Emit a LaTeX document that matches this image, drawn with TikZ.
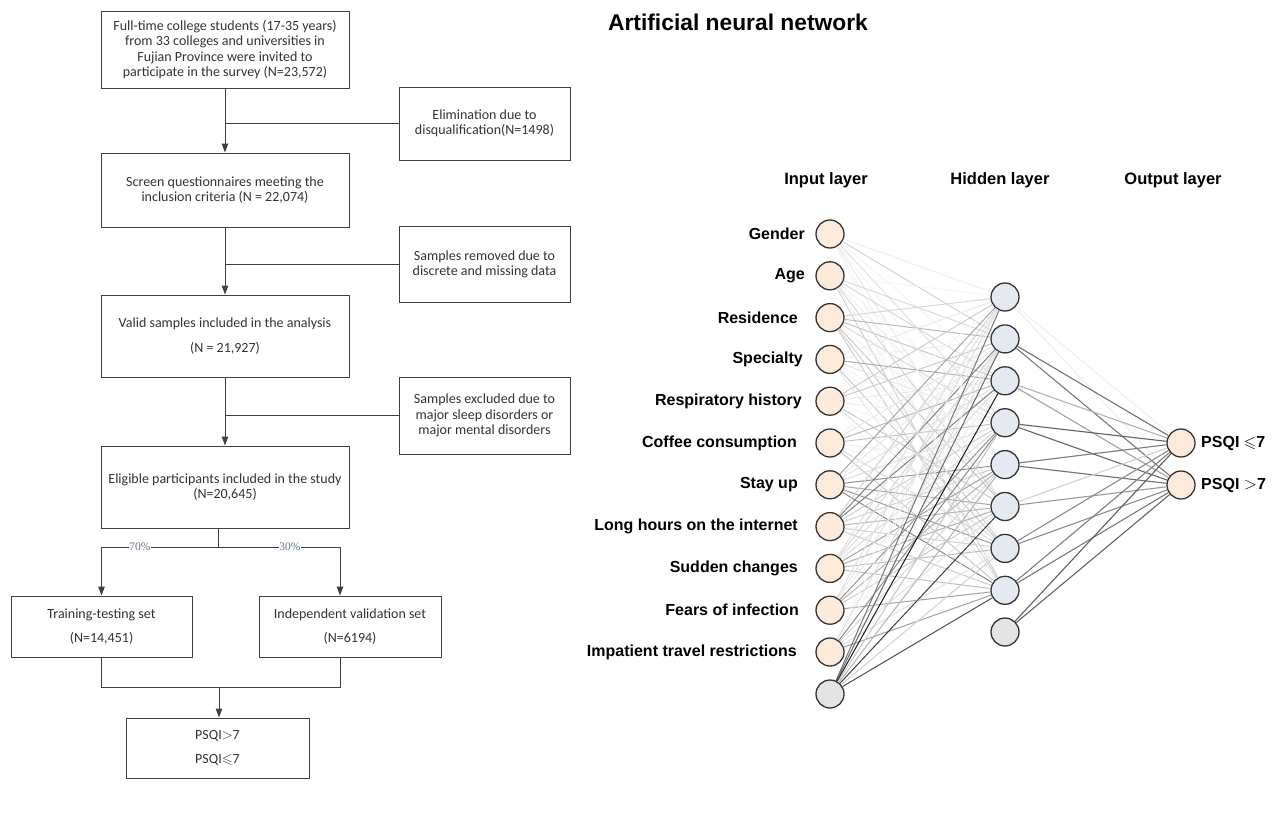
\documentclass[tikz,border=0pt]{standalone}
\usepackage{amssymb}
\usepackage{fontspec}
\setmainfont{Liberation Sans}
\newfontfamily\fcfont{Carlito}
\newfontfamily\pctfont{Liberation Serif}
\usetikzlibrary{arrows.meta}
\definecolor{fcline}{HTML}{404040}
\definecolor{fctext}{HTML}{333333}
\definecolor{pctcol}{HTML}{5F7290}
\definecolor{infill}{HTML}{FCEBDA}
\definecolor{hidfill}{HTML}{E5EAF2}
\definecolor{biasfill}{HTML}{E4E4E4}
\definecolor{nodeline}{HTML}{333333}
\tikzset{
  fbox/.style={draw=fcline, line width=1pt, rectangle, inner sep=0pt, align=center,
    font=\fcfont\fontsize{14}{15.3}\selectfont, text=fctext},
  fline/.style={draw=fcline, line width=1pt},
  farrow/.style={fline, -{Triangle[length=9pt,width=6.5pt]}},
  pct/.style={font=\pctfont\fontsize{11.5}{12}\selectfont, text=pctcol, fill=white, inner sep=0.8pt},
  neuron/.style={circle, draw=nodeline, line width=1.3pt, minimum size=28pt, inner sep=0pt},
  innode/.style={neuron, fill=infill},
  hidnode/.style={neuron, fill=hidfill},
  biasnode/.style={neuron, fill=biasfill},
  lab/.style={anchor=east, font=\bfseries\fontsize{16}{19}\selectfont, inner sep=0pt},
  olab/.style={anchor=west, font=\bfseries\fontsize{16}{19}\selectfont, inner sep=0pt},
  head/.style={font=\bfseries\fontsize{16.5}{19}\selectfont},
}
\begin{document}
\begin{tikzpicture}[x=1pt,y=-1pt]
\useasboundingbox[fill=white] (0,0) rectangle (1282,838);

% ---------------- flowchart ----------------
\node[fbox, minimum width=248pt, minimum height=77pt] (b1) at (225,49.5)
  {Full-time college students (17-35 years)\\ from 33 colleges and universities in\\ Fujian Province were invited to\\ participate in the survey (N=23,572)};
\node[fbox, minimum width=171pt, minimum height=73pt] (e1) at (484.5,123.5)
  {Elimination due to\\ disqualification(N=1498)};
\node[fbox, minimum width=248pt, minimum height=74pt] (b2) at (225,190)
  {Screen questionnaires meeting the\\ inclusion criteria (N = 22,074)};
\node[fbox, minimum width=171pt, minimum height=76pt] (e2) at (484.5,264)
  {Samples removed due to\\ discrete and missing data};
\node[fbox, minimum width=248pt, minimum height=82pt] (b3) at (225,336)
  {Valid samples included in the analysis\\[10pt] (N = 21,927)};
\node[fbox, minimum width=171pt, minimum height=77pt] (e3) at (484.5,415.5)
  {Samples excluded due to\\ major sleep disorders or\\ major mental disorders};
\node[fbox, minimum width=248pt, minimum height=82pt] (b4) at (225,487)
  {Eligible participants included in the study\\ (N=20,645)};
\node[fbox, minimum width=181pt, minimum height=61pt] (b5) at (101.5,626.5)
  {Training-testing set\\[9pt] (N=14,451)};
\node[fbox, minimum width=182pt, minimum height=61pt] (b6) at (350,626.5)
  {Independent validation set\\[9pt] (N=6194)};
\node[fbox, minimum width=183pt, minimum height=60pt] (b7) at (217.5,748)
  {PSQI$>$7\\[9pt] PSQI$\leqslant$7};

\draw[farrow] (b1.south) -- (b2.north);
\draw[farrow] (b2.south) -- (b3.north);
\draw[farrow] (b3.south) -- (b4.north);
\draw[fline] (e1.west) -- (e1.west -| b1.south);
\draw[fline] (e2.west) -- (e2.west -| b2.south);
\draw[fline] (e3.west) -- (e3.west -| b3.south);

\coordinate (s) at (218,547);
\coordinate (sR) at (340,547);
\draw[fline] (b4.south -| s) -- (s);
\draw[farrow] (s) -- (s -| b5) -- (b5.north);
\draw[farrow] (s) -- (sR) -- (sR |- b6.north);
\node[pct] at (140,547) {70\%};
\node[pct] at (290,547) {30\%};
\coordinate (m) at (219,687);
\draw[fline] (b5.south) -- (b5.south |- m) -- (sR |- m) -- (sR |- b6.south);
\draw[farrow] (m) -- (m |- b7.north);

% ---------------- neural network ----------------
\node[font=\bfseries\fontsize{22.8}{26}\selectfont] (title) at (738,22) {Artificial neural network};
\node[head] (hin) at (826,180) {Input layer};
\node[head] (hhid) at (1000,180) {Hidden layer};
\node[head] (hout) at (1173,180) {Output layer};

% input nodes
\foreach \k in {1,...,11} {
  \node[innode] (i\k) at (830,{234+41.8*(\k-1)}) {};
}
\node[biasnode] (i12) at (830,694) {};
% hidden nodes
\foreach \k in {1,...,8} {
  \node[hidnode] (h\k) at (1005,{297+41.9*(\k-1)}) {};
}
\node[biasnode] (h9) at (1005,632) {};
% output nodes
\node[innode] (o1) at (1181,443) {};
\node[innode] (o2) at (1181,485) {};

% labels
\foreach \k/\xr/\t in {1/805/Gender,2/805/Age,3/798/Residence,4/803/Specialty,
  5/802/Respiratory history,6/797/Coffee consumption,7/798/Stay up,
  8/798/Long hours on the internet,9/798/Sudden changes,10/799/Fears of infection,
  11/797/Impatient travel restrictions} {
  \node[lab] (l\k) at (\xr,{234+41.8*(\k-1)}) {\t};
}
\node[olab] (lo1) at (1201,443) {PSQI $\leqslant$7};
\node[olab] (lo2) at (1201,485) {PSQI $>$7};

% connections input -> hidden
\pgfmathsetseed{11}
\foreach \i/\b in {1/7,2/11,3/14,4/17,5/19,6/22,7/34,8/32,9/25,10/22,11/28,12/68} {
  \foreach \j/\f in {1/0.35,2/1,3/1,4/1.05,5/0.9,6/0.95,7/1,8/1.05} {
    \pgfmathsetmacro\s{max(4,min(90,\b*\f+(\b*0.7+6)*(rnd-0.5)*2))}
    \draw[line width=1pt, draw=black!\s] (i\i) -- (h\j);
  }
}
% connections hidden -> output
\foreach \j/\sa/\sb in {1/6/6,2/55/52,3/30/36,4/62/60,5/52/56,6/18/40,7/45/45,8/50/52,9/62/60} {
  \draw[line width=1.1pt, draw=black!\sa] (h\j) -- (o1);
  \draw[line width=1.1pt, draw=black!\sb] (h\j) -- (o2);
}
\end{tikzpicture}
\end{document}
